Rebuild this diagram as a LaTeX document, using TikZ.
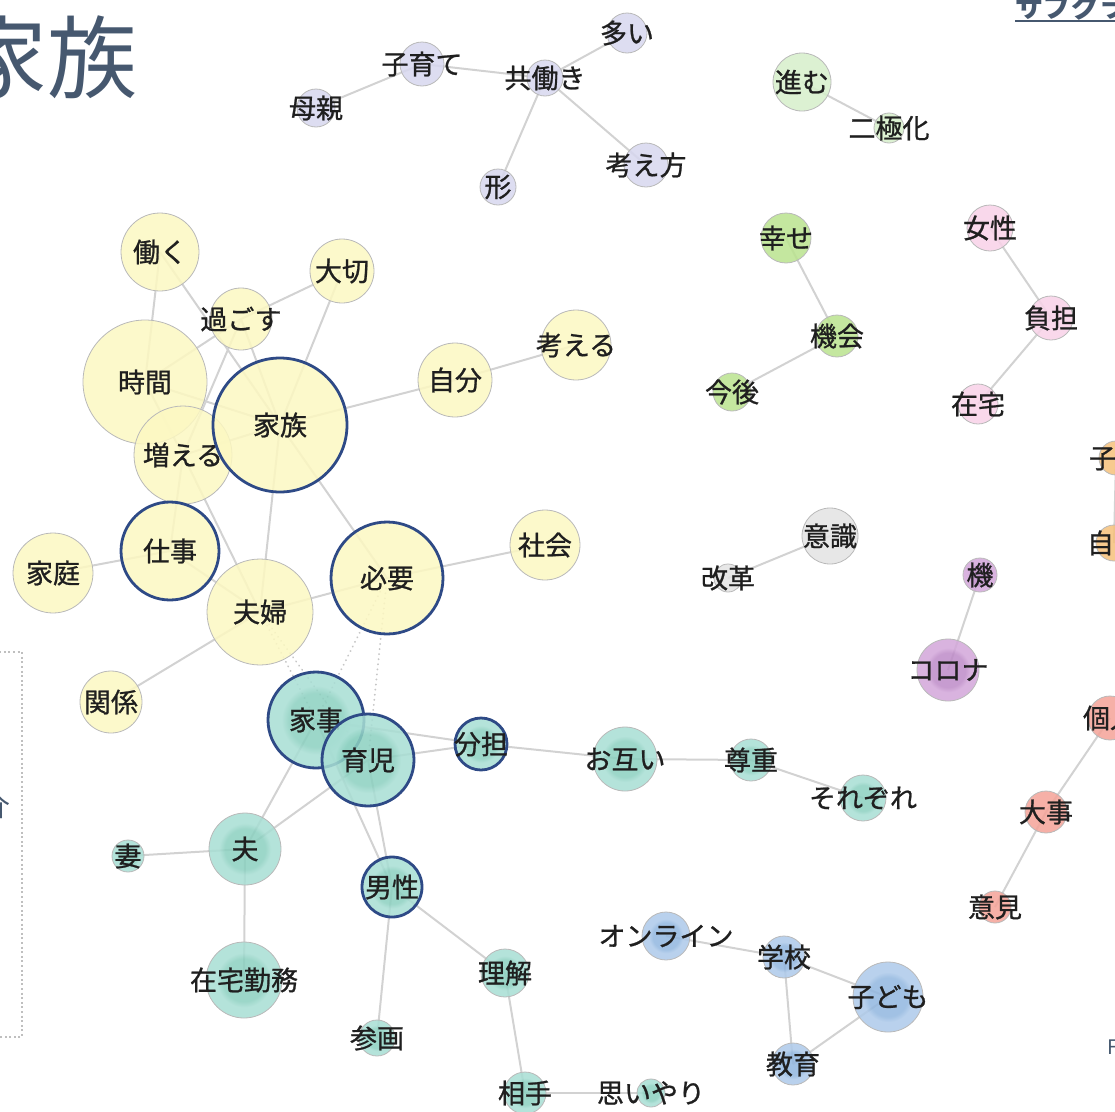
\documentclass[tikz,border=0pt]{standalone}
\usepackage{fontspec}
\setmainfont{Noto Sans CJK JP}
\newfontfamily\labfont{Noto Sans CJK JP}[FakeBold=0.9]
\usetikzlibrary{backgrounds}
\definecolor{cyel}{HTML}{FCF8C2}
\definecolor{cring}{HTML}{2E4A86}
\definecolor{tealout}{HTML}{A8DED4}
\definecolor{tealin}{HTML}{8CD0C0}
\definecolor{blueout}{HTML}{AECAEA}
\definecolor{bluein}{HTML}{92B7DF}
\definecolor{purpout}{HTML}{D3A7DA}
\definecolor{purpin}{HTML}{BE8CC8}
\definecolor{clav}{HTML}{D7D7EF}
\definecolor{cpg}{HTML}{D6EFCB}
\definecolor{cgrn}{HTML}{BAE38F}
\definecolor{cpink}{HTML}{F8D2E8}
\definecolor{cgray}{HTML}{E3E3E3}
\definecolor{corng}{HTML}{F6C17C}
\definecolor{cred}{HTML}{F4A398}
\definecolor{cslate}{HTML}{46586F}
\pgfdeclareradialshading{tealsh}{\pgfpointorigin}{color(0bp)=(tealin); color(14bp)=(tealin); color(18bp)=(tealout); color(25bp)=(tealout); color(50bp)=(tealout)}
\pgfdeclareradialshading{bluesh}{\pgfpointorigin}{color(0bp)=(bluein); color(14bp)=(bluein); color(18bp)=(blueout); color(25bp)=(blueout); color(50bp)=(blueout)}
\pgfdeclareradialshading{purpsh}{\pgfpointorigin}{color(0bp)=(purpin); color(14bp)=(purpin); color(18bp)=(purpout); color(25bp)=(purpout); color(50bp)=(purpout)}
\tikzset{
  base/.style={circle, inner sep=0pt, draw=gray!55, line width=0.8pt, fill opacity=0.86, text opacity=1},
  R/.style={minimum size=#1*2pt},
  nyel/.style={base, fill=cyel},
  nteal/.style={base, shade, shading=tealsh},
  nblue/.style={base, shade, shading=bluesh},
  npurp/.style={base, shade, shading=purpsh},
  nlav/.style={base, fill=clav},
  npg/.style={base, fill=cpg},
  ngrn/.style={base, fill=cgrn},
  npink/.style={base, fill=cpink},
  ngray/.style={base, fill=cgray},
  norng/.style={base, fill=corng},
  nred/.style={base, fill=cred},
  ring/.style={draw=cring, line width=2.8pt},
  every label/.style={font=\labfont\fontsize{27}{27}\selectfont, text=black!88, inner sep=0pt, text opacity=1, fill opacity=1},
  edge/.style={draw=gray!35, line width=2pt},
  dotedge/.style={draw=gray!45, line width=2pt, dash pattern=on 0.1pt off 5pt, line cap=round},
}
\begin{document}
\begin{tikzpicture}[x=1pt, y=-1pt]
\useasboundingbox (0,0) rectangle (1115,1111);
\clip (0,0) rectangle (1115,1111);
% decorations
\node[font=\fontsize{90}{90}\selectfont, text=cslate, inner sep=0pt] (title) at (48,57) {家族};
\node[font=\bfseries\fontsize{28}{28}\selectfont, text=cslate, anchor=base west, inner sep=0pt] (sub) at (1015,17) {サブグラフ};
\draw[cslate, line width=2pt] ([yshift=-4pt]sub.base west) -- ++(120,0);
\draw[gray!50, line width=2.2pt, dash pattern=on 2pt off 2.6pt] (-10,652) -- (22,652) -- (22,1037) -- (-10,1037);
\node[font=\fontsize{28}{28}\selectfont, text=cslate, inner sep=0pt] (kai) at (-3,806) {介};
\node[font=\fontsize{20}{20}\selectfont, text=cslate, anchor=west, inner sep=0pt] (fch) at (1107,1047) {F};
% lavender
\node[nlav, R=22, label={center:子育て}] (kosodate) at (422,64) {};
\node[nlav, R=18, label={center:共働き}] (tomo) at (545,78) {};
\node[nlav, R=20, label={center:多い}] (ooi) at (627,33) {};
\node[nlav, R=19, label={center:母親}] (haha) at (316,108) {};
\node[nlav, R=18, label={center:形}] (kata) at (498,187) {};
\node[nlav, R=22, label={center:考え方}] (kangaekata) at (646,165) {};
% pale green
\node[npg, R=29, label={center:進む}] (susumu) at (802,82) {};
\node[npg, R=15, label={center:二極化}] (nikyoku) at (889,128) {};
% green
\node[ngrn, R=25, label={center:幸せ}] (shiawase) at (786,238) {};
\node[ngrn, R=21, label={center:機会}] (kikai) at (837,336) {};
\node[ngrn, R=19, label={center:今後}] (kongo) at (732,392) {};
% pink
\node[npink, R=23, label={center:女性}] (josei) at (990,228) {};
\node[npink, R=22, label={center:負担}] (futan) at (1051,318) {};
\node[npink, R=20, label={center:在宅}] (zaitaku) at (978,404) {};
% gray
\node[ngray, R=28, label={center:意識}] (ishiki) at (830,536) {};
\node[ngray, R=14, label={center:改革}] (kaikaku) at (728,578) {};
% purple
\node[npurp, R=17, label={center:機}] (ki) at (980,575) {};
\node[npurp, R=31, label={center:コロナ}] (corona) at (948,670) {};
% orange
\node[norng, R=17, label={center:子供}] (kodomo2) at (1116,458) {};
\node[norng, R=18, label={center:自宅}] (jitaku) at (1114,543) {};
% red
\node[nred, R=22, label={center:個人}] (kojin) at (1110,718) {};
\node[nred, R=21, label={center:大事}] (daiji) at (1046,812) {};
\node[nred, R=16, label={center:意見}] (iken) at (995,907) {};
% yellow
\node[nyel, R=39, label={center:働く}] (hataraku) at (160,252) {};
\node[nyel, R=32, label={center:大切}] (taisetsu) at (342,271) {};
\node[nyel, R=62, label={center:時間}] (jikan) at (145,382) {};
\node[nyel, R=31, label={center:過ごす}] (sugosu) at (241,319) {};
\node[nyel, R=49, label={center:増える}] (fueru) at (183,455) {};
\node[nyel, R=67, ring, label={center:家族}] (kazoku) at (280,425) {};
\node[nyel, R=37, label={center:自分}] (jibun) at (455,380) {};
\node[nyel, R=35, label={center:考える}] (kangaeru) at (576,345) {};
\node[nyel, R=49, ring, label={center:仕事}] (shigoto) at (170,551) {};
\node[nyel, R=40, label={center:家庭}] (katei) at (53,573) {};
\node[nyel, R=53, label={center:夫婦}] (fuufu) at (260,612) {};
\node[nyel, R=56, ring, label={center:必要}] (hitsuyou) at (387,578) {};
\node[nyel, R=35, label={center:社会}] (shakai) at (545,545) {};
\node[nyel, R=31, label={center:関係}] (kankei) at (111,702) {};
% teal
\node[nteal, R=48, ring, label={center:家事}] (kaji) at (316,720) {};
\node[nteal, R=46, ring, label={center:育児}] (ikuji) at (368,760) {};
\node[nteal, R=26, ring, label={center:分担}] (buntan) at (481,744) {};
\node[nteal, R=32, label={center:お互い}] (otagai) at (625,759) {};
\node[nteal, R=21, label={center:尊重}] (sonchou) at (751,760) {};
\node[nteal, R=23, label={center:それぞれ}] (sorezore) at (863,798) {};
\node[nteal, R=36, label={center:夫}] (otto) at (245,849) {};
\node[nteal, R=16, label={center:妻}] (tsuma) at (128,856) {};
\node[nteal, R=38, label={center:在宅勤務}] (zaitakukinmu) at (244,980) {};
\node[nteal, R=30, ring, label={center:男性}] (dansei) at (392,887) {};
\node[nteal, R=24, label={center:理解}] (rikai) at (505,973) {};
\node[nteal, R=18, label={center:参画}] (sankaku) at (377,1038) {};
\node[nteal, R=21, label={center:相手}] (aite) at (525,1093) {};
\node[nteal, R=14, label={center:思いやり}] (omoiyari) at (651,1093) {};
% blue
\node[nblue, R=24, label={center:オンライン}] (online) at (666,936) {};
\node[nblue, R=21, label={center:学校}] (gakkou) at (784,957) {};
\node[nblue, R=35, label={center:子ども}] (kodomo) at (888,997) {};
\node[nblue, R=21, label={center:教育}] (kyouiku) at (793,1064) {};
% edges
\begin{scope}[on background layer]
\foreach \a/\b in {kosodate/tomo, kosodate/haha, tomo/ooi, tomo/kata, tomo/kangaekata,
  susumu/nikyoku, shiawase/kikai, kikai/kongo, josei/futan, futan/zaitaku, ishiki/kaikaku,
  ki/corona, kodomo2/jitaku, kojin/daiji, daiji/iken,
  hataraku/jikan, hataraku/kazoku, taisetsu/sugosu, taisetsu/kazoku, sugosu/jikan, sugosu/kazoku,
  sugosu/fueru, jikan/kazoku, jikan/fueru, kazoku/fueru, kazoku/jibun, jibun/kangaeru,
  kazoku/hitsuyou, kazoku/fuufu, fueru/shigoto, fueru/fuufu, shigoto/katei, shigoto/fuufu,
  fuufu/hitsuyou, hitsuyou/shakai, fuufu/kankei,
  kaji/buntan, ikuji/buntan, buntan/otagai, otagai/sonchou, sonchou/sorezore,
  kaji/otto, ikuji/otto, kaji/dansei, ikuji/dansei, otto/tsuma, otto/zaitakukinmu,
  dansei/sankaku, dansei/rikai, rikai/aite, aite/omoiyari,
  online/gakkou, gakkou/kodomo, gakkou/kyouiku, kyouiku/kodomo}
  \draw[edge] (\a.center) -- (\b.center);
\foreach \a/\b in {fuufu/kaji, fuufu/ikuji, hitsuyou/kaji, hitsuyou/ikuji}
  \draw[dotedge] (\a.center) -- (\b.center);
\end{scope}
\end{tikzpicture}
\end{document}
